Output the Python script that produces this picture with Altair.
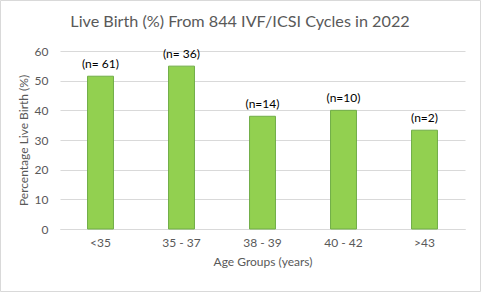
import altair as alt
import pandas as pd

groups = ["<35", "35 - 37", "38 - 39", "40 - 42", ">43"]
live_birth = [51.5, 54.9, 38.0, 40.0, 33.3]
n_labels = ["(n= 61)", "(n= 36)", "(n=14)", "(n=10)", "(n=2)"]
chart_title = ["Live Birth (%) From 844 IVF/ICSI Cycles in 2022"]

df = pd.DataFrame({"group": groups, "value": live_birth, "label": n_labels})
title_df = pd.DataFrame({"t": chart_title})

FONT = "Lato"
GRAY = "#595959"

x = alt.X("group:N", sort=groups, title="Age Groups (years)",
          scale=alt.Scale(paddingInner=0.68, paddingOuter=0.34),
          axis=alt.Axis(labelAngle=0, ticks=False, domainColor="#d9d9d9",
                        labelColor=GRAY, titleColor=GRAY, labelFont=FONT, titleFont=FONT,
                        labelFontSize=12, titleFontSize=12, titleFontWeight="normal",
                        labelPadding=8, titlePadding=8))
y = alt.Y("value:Q", title="Percentage Live Birth (%)",
          scale=alt.Scale(domain=[0, 60]),
          axis=alt.Axis(values=[0, 10, 20, 30, 40, 50, 60], domain=False, ticks=False,
                        gridColor="#d9d9d9", labelColor=GRAY, titleColor=GRAY,
                        labelFont=FONT, titleFont=FONT, labelFontSize=12, titleFontSize=12,
                        titleFontWeight="normal", labelPadding=12, titlePadding=4,
                        labelOverlap=False))

base = alt.Chart(df).encode(x=x, y=y)
bars = base.mark_bar(color="#92d050", stroke="#70ad47", strokeWidth=1)
text = base.mark_text(dy=-12, font=FONT, fontSize=12, color="#000000").encode(text="label:N")

title = alt.Chart(title_df).mark_text(font=FONT, fontSize=16.2, color=GRAY, align="center",
                                      baseline="middle").encode(
    x=alt.value(180), y=alt.value(-29), text="t:N")

border = alt.Chart(title_df).mark_rect(fill=None, stroke="#d9d9d9", strokeWidth=1).encode(
    x=alt.value(-59.5), x2=alt.value(420.5), y=alt.value(-50.5), y2=alt.value(240.5))

chart = alt.layer(bars, text, title, border).properties(
    width=405, height=178,
    background="white",
    autosize=alt.AutoSizeParams(type="none"),
    padding={"left": 60, "top": 51, "right": 16, "bottom": 63},
).configure_view(stroke=None)

chart.save("out.html", embed_options={"renderer": "svg", "actions": False})
